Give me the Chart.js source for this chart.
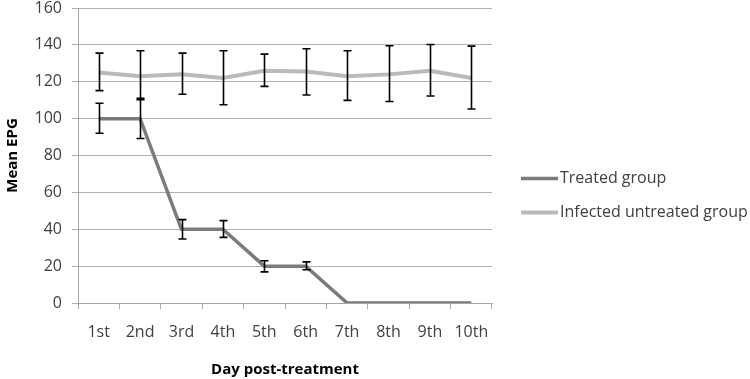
<!DOCTYPE html>
<html>
<head>
<meta charset="utf-8">
<script src="https://cdn.jsdelivr.net/npm/chart.js@4"></script>
<style>
  html, body { margin: 0; padding: 0; background: #fff; }
  #wrap { width: 750px; height: 379px; }
</style>
</head>
<body>
<div id="wrap"><canvas id="chart" width="750" height="379"></canvas></div>
<script>
// Mean EPG per day post-treatment
const days = ['1st', '2nd', '3rd', '4th', '5th', '6th', '7th', '8th', '9th', '10th'];

const treatedMean = [100, 100, 40, 40, 20, 20, 0, 0, 0, 0];
const treatedHigh = [108.3, 111, 45.2, 44.7, 22.9, 22.3, null, null, null, null];
const treatedLow = [92.1, 89.2, 34.7, 35.6, 16.9, 18, null, null, null, null];

const infectedMean = [125, 123, 124, 122, 126, 125.5, 123, 124, 126, 122];
const infectedHigh = [135.5, 136.8, 135.5, 136.8, 135, 137.9, 136.8, 139.5, 140.2, 139.3];
const infectedLow = [115.2, 110.3, 113.2, 107.5, 117.5, 112.8, 109.9, 109.3, 112.3, 105.2];

const yTicks = [0, 20, 40, 60, 80, 100, 120, 140, 160];

const FONT = "'Open Sans', 'DejaVu Sans', sans-serif";

// draws the min/max whiskers through the chart's own scales
const errorBars = {
  id: 'errorBars',
  afterDatasetsDraw(chart) {
    const { ctx, scales: { x, y } } = chart;
    ctx.save();
    ctx.strokeStyle = '#000';
    ctx.lineWidth = 1.6;
    chart.data.datasets.forEach(ds => {
      ds.errHigh.forEach((hi, i) => {
        const lo = ds.errLow[i];
        if (hi == null || lo == null) return;
        const px = Math.round(x.getPixelForValue(i)) + 0.5;
        const pTop = y.getPixelForValue(hi);
        const pBot = y.getPixelForValue(lo);
        ctx.beginPath();
        ctx.moveTo(px, pTop); ctx.lineTo(px, pBot);
        ctx.moveTo(px - 4, pTop); ctx.lineTo(px + 4, pTop);
        ctx.moveTo(px - 4, pBot); ctx.lineTo(px + 4, pBot);
        ctx.stroke();
      });
    });
    ctx.restore();
  }
};

// legend to the right of the plot, line sample + label
const sideLegend = {
  id: 'sideLegend',
  afterDraw(chart) {
    const { ctx, chartArea } = chart;
    const x0 = chartArea.right + 29;
    const yMid = chart.height / 2 + 6;
    const gap = 34;
    const dsets = chart.data.datasets;
    ctx.save();
    ctx.font = '16px ' + FONT;
    ctx.textBaseline = 'middle';
    ctx.fillStyle = '#404040';
    dsets.forEach((ds, i) => {
      const yy = yMid + (i - (dsets.length - 1) / 2) * gap;
      ctx.strokeStyle = ds.borderColor;
      ctx.lineWidth = ds.borderWidth;
      ctx.beginPath();
      ctx.moveTo(x0, yy); ctx.lineTo(x0 + 37, yy);
      ctx.stroke();
      ctx.fillText(ds.label, x0 + 39, yy);
    });
    ctx.restore();
  }
};

new Chart(document.getElementById('chart').getContext('2d'), {
  type: 'line',
  data: {
    labels: days,
    datasets: [
      {
        label: 'Treated group',
        data: treatedMean,
        errHigh: treatedHigh,
        errLow: treatedLow,
        borderColor: '#7b7b7b',
        backgroundColor: '#7b7b7b',
        borderWidth: 3.5,
        pointRadius: 0,
        tension: 0
      },
      {
        label: 'Infected untreated group',
        data: infectedMean,
        errHigh: infectedHigh,
        errLow: infectedLow,
        borderColor: '#bababa',
        backgroundColor: '#bababa',
        borderWidth: 4,
        pointRadius: 0,
        tension: 0
      }
    ]
  },
  options: {
    responsive: false,
    animation: false,
    layout: { autoPadding: false, padding: { top: 8, right: 258, bottom: 0, left: 0 } },
    plugins: {
      tooltip: { enabled: false },
      legend: { display: false }
    },
    scales: {
      x: {
        offset: true,
        grid: { offset: true, drawOnChartArea: false, tickLength: 6, color: '#a6a6a6' },
        border: { color: '#a6a6a6' },
        ticks: { color: '#404040', padding: 14, font: { family: FONT, size: 16 } },
        title: {
          display: true, text: 'Day post-treatment', color: '#000',
          padding: { top: 12, bottom: 0 },
          font: { family: FONT, size: 15, weight: 'bold' }
        },
        afterFit(scale) {
          scale.height = 76;
          scale.paddingLeft = 0; scale.paddingRight = 0;
        }
      },
      y: {
        min: 0,
        max: 160,
        afterBuildTicks(scale) { scale.ticks = yTicks.map(v => ({ value: v })); },
        grid: { color: '#b0b0b0', tickLength: 6 },
        border: { color: '#a6a6a6' },
        ticks: { color: '#404040', padding: 10, font: { family: FONT, size: 16 } },
        title: {
          display: true, text: 'Mean EPG', color: '#000',
          padding: { top: 4, bottom: 2 },
          font: { family: FONT, size: 15, weight: 'bold' }
        },
        afterFit(scale) {
          scale.width = 78;
          scale.paddingTop = 0; scale.paddingBottom = 0;
        }
      }
    }
  },
  plugins: [errorBars, sideLegend]
});
</script>
</body>
</html>
